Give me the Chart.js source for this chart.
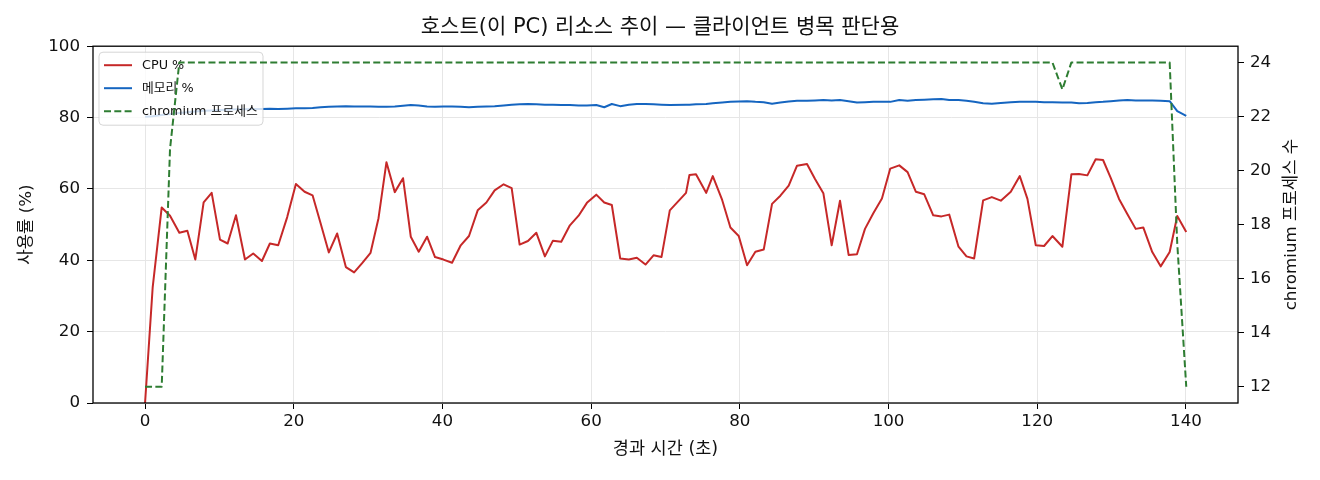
<!DOCTYPE html>
<html>
<head>
<meta charset="utf-8">
<script src="https://cdn.jsdelivr.net/npm/chart.js@4.4.1/dist/chart.umd.min.js"></script>
<style>
  html, body { margin: 0; padding: 0; background: #fff; }
  #wrap { width: 1320px; height: 480px; }
</style>
</head>
<body>
<div id="wrap"><canvas id="myChart" width="1320" height="480"></canvas></div>
<script>
// elapsed seconds of each sample
const times = [
  0.00, 1.03, 2.24, 3.36, 4.61, 5.69, 6.76, 7.88, 8.96, 10.08,
  11.11, 12.23, 13.44, 14.55, 15.72, 16.79, 17.91, 19.12, 20.29, 21.46,
  22.53, 23.61, 24.72, 25.84, 27.01, 28.12, 29.20, 30.33, 31.40, 32.47,
  33.59, 34.70, 35.74, 36.81, 37.93, 39.00, 40.13, 41.29, 42.46, 43.57,
  44.74, 45.91, 47.02, 48.23, 49.31, 50.38, 51.50, 52.63, 53.78, 54.86,
  55.98, 57.14, 58.31, 59.43, 60.69, 61.76, 62.78, 63.91, 65.07, 66.14,
  67.31, 68.39, 69.46, 70.58, 72.76, 73.22, 74.10, 75.47, 76.36, 77.62,
  78.73, 79.85, 80.97, 82.09, 83.21, 84.33, 85.45, 86.57, 87.69, 89.03,
  90.11, 91.23, 92.35, 93.47, 94.63, 95.75, 96.83, 97.95, 99.11, 100.23,
  101.44, 102.56, 103.68, 104.80, 106.01, 107.12, 108.16, 109.41, 110.48, 111.51,
  112.72, 113.89, 115.10, 116.44, 117.65, 118.68, 119.80, 120.92, 122.04, 123.38,
  124.59, 125.62, 126.74, 127.86, 128.85, 129.88, 131.00, 132.11, 133.24, 134.26,
  135.47, 136.60, 137.81, 138.83, 140.04
];

const cpuPct = [
  0.0, 32.5, 54.8, 52.5, 47.7, 48.3, 40.2, 56.2, 58.9, 45.8,
  44.7, 52.6, 40.2, 41.9, 39.8, 44.7, 44.2, 52.1, 61.4, 59.2,
  58.2, 50.4, 42.2, 47.5, 38.1, 36.6, 39.2, 42.1, 51.8, 67.5,
  59.1, 63.0, 46.6, 42.4, 46.6, 40.9, 40.2, 39.3, 44.2, 46.8,
  54.0, 56.2, 59.6, 61.3, 60.2, 44.4, 45.4, 47.7, 41.1, 45.5,
  45.2, 49.8, 52.5, 56.1, 58.4, 56.2, 55.5, 40.5, 40.2, 40.7,
  38.8, 41.4, 40.9, 54.0, 58.9, 63.9, 64.1, 58.9, 63.6, 56.9,
  49.2, 46.8, 38.6, 42.4, 43.0, 55.8, 58.1, 60.9, 66.5, 67.0,
  62.8, 58.8, 44.2, 56.7, 41.5, 41.7, 48.8, 53.2, 57.3, 65.7,
  66.6, 64.7, 59.2, 58.5, 52.6, 52.3, 52.8, 43.8, 41.1, 40.5,
  56.8, 57.7, 56.7, 59.2, 63.6, 57.2, 44.2, 44.0, 46.8, 43.8,
  64.1, 64.2, 63.8, 68.3, 68.1, 63.1, 57.2, 53.0, 48.8, 49.2,
  42.3, 38.3, 42.3, 52.4, 47.9
];

const memPct = [
  80.2, 80.4, 80.7, 81.0, 81.3, 81.5, 81.7, 81.9, 82.0, 82.1,
  82.2, 82.3, 82.3, 82.4, 82.4, 82.5, 82.4, 82.5, 82.6, 82.6,
  82.7, 82.9, 83.0, 83.1, 83.2, 83.1, 83.1, 83.1, 83.0, 83.0,
  83.1, 83.3, 83.5, 83.4, 83.1, 83.0, 83.1, 83.1, 83.0, 82.9,
  83.0, 83.1, 83.2, 83.4, 83.6, 83.7, 83.8, 83.7, 83.6, 83.6,
  83.5, 83.5, 83.4, 83.4, 83.5, 82.9, 83.8, 83.2, 83.6, 83.8,
  83.8, 83.7, 83.6, 83.5, 83.6, 83.6, 83.7, 83.8, 84.0, 84.2,
  84.4, 84.5, 84.6, 84.4, 84.3, 83.9, 84.2, 84.5, 84.7, 84.7,
  84.8, 84.9, 84.8, 84.9, 84.6, 84.2, 84.3, 84.4, 84.4, 84.4,
  84.9, 84.7, 84.9, 85.0, 85.1, 85.2, 84.9, 84.9, 84.7, 84.4,
  84.0, 83.9, 84.1, 84.3, 84.4, 84.4, 84.4, 84.3, 84.3, 84.2,
  84.2, 84.0, 84.1, 84.3, 84.4, 84.6, 84.8, 84.9, 84.8, 84.8,
  84.8, 84.7, 84.6, 81.8, 80.5
];

const chromiumCount = [
  12, 12, 12, 20.8, 24, 24, 24, 24, 24, 24,
  24, 24, 24, 24, 24, 24, 24, 24, 24, 24,
  24, 24, 24, 24, 24, 24, 24, 24, 24, 24,
  24, 24, 24, 24, 24, 24, 24, 24, 24, 24,
  24, 24, 24, 24, 24, 24, 24, 24, 24, 24,
  24, 24, 24, 24, 24, 24, 24, 24, 24, 24,
  24, 24, 24, 24, 24, 24, 24, 24, 24, 24,
  24, 24, 24, 24, 24, 24, 24, 24, 24, 24,
  24, 24, 24, 24, 24, 24, 24, 24, 24, 24,
  24, 24, 24, 24, 24, 24, 24, 24, 24, 24,
  24, 24, 24, 24, 24, 24, 24, 24, 24, 23,
  24, 24, 24, 24, 24, 24, 24, 24, 24, 24,
  24, 24, 24, 17.3, 12
];

const xTicks = [0, 20, 40, 60, 80, 100, 120, 140];
const pctTicks = [0, 20, 40, 60, 80, 100];
const countTicks = [12, 14, 16, 18, 20, 22, 24];

const FONT = "'DejaVu Sans', 'Noto Sans CJK KR', sans-serif";
const TEXT = "#111";

function points(values) {
  return times.map((t, i) => ({ x: t, y: values[i] }));
}

function fixTicks(list) {
  return (scale) => {
    scale.ticks = list.map((v) => ({ value: v }));
  };
}

// box round the plot area
const frame = {
  id: "frame",
  afterDraw(chart) {
    const { ctx, chartArea: a } = chart;
    ctx.save();
    ctx.strokeStyle = "#000";
    ctx.lineWidth = 1.3;
    ctx.strokeRect(a.left, a.top, a.right - a.left, a.bottom - a.top);
    ctx.restore();
  },
};

// legend inside the axes, under the chromium line like matplotlib
const innerLegend = {
  id: "innerLegend",
  beforeDatasetDraw(chart, args) {
    if (args.index !== 2) return;
    const ctx = chart.ctx;
    const a = chart.chartArea;
    const x = a.left + 6, y = a.top + 6, w = 164, h = 73;
    ctx.save();
    ctx.beginPath();
    ctx.roundRect(x, y, w, h, 4);
    ctx.fillStyle = "rgba(255,255,255,0.8)";
    ctx.fill();
    ctx.strokeStyle = "rgba(204,204,204,0.8)";
    ctx.lineWidth = 1;
    ctx.stroke();
    ctx.font = "12.8px " + FONT;
    ctx.textBaseline = "middle";
    chart.data.datasets.forEach((ds, i) => {
      const ry = y + 13 + i * 23;
      ctx.beginPath();
      ctx.setLineDash(ds.borderDash || []);
      ctx.strokeStyle = ds.borderColor;
      ctx.lineWidth = ds.borderWidth;
      ctx.moveTo(x + 5, ry);
      ctx.lineTo(x + 33, ry);
      ctx.stroke();
      ctx.setLineDash([]);
      ctx.fillStyle = TEXT;
      ctx.fillText(ds.label, x + 43, ry);
    });
    ctx.restore();
  },
};

// right axis title reads bottom to top
const rightTitle = {
  id: "rightTitle",
  afterDraw(chart) {
    const { ctx, chartArea: a } = chart;
    ctx.save();
    ctx.translate(1292, (a.top + a.bottom) / 2);
    ctx.rotate(-Math.PI / 2);
    ctx.font = "16.7px " + FONT;
    ctx.fillStyle = TEXT;
    ctx.textAlign = "center";
    ctx.textBaseline = "middle";
    ctx.fillText("chromium 프로세스 수", 0, 0);
    ctx.restore();
  },
};

function renderChart() {
  const ctx = document.getElementById("myChart");

  new Chart(ctx, {
    type: "line",
    data: {
      datasets: [
        {
          label: "CPU %",
          data: points(cpuPct),
          borderColor: "#c62828",
          borderWidth: 2,
          pointRadius: 0,
          yAxisID: "y",
          order: 2,
        },
        {
          label: "메모리 %",
          data: points(memPct),
          borderColor: "#1565c0",
          borderWidth: 2,
          pointRadius: 0,
          yAxisID: "y",
          order: 1,
        },
        {
          label: "chromium 프로세스",
          data: points(chromiumCount),
          borderColor: "#2e7d32",
          borderWidth: 2,
          borderDash: [7, 3.3],
          pointRadius: 0,
          yAxisID: "y1",
          order: 0,
        },
      ],
    },
    options: {
      responsive: false,
      animation: false,
      devicePixelRatio: 1,
      borderJoinStyle: "round",
      layout: { padding: 0 },
      scales: {
        x: {
          type: "linear",
          min: -7,
          max: 147,
          afterBuildTicks: fixTicks(xTicks),
          afterFit: (s) => { s.height = 77; },
          border: { display: false },
          grid: { color: "#e6e6e6", lineWidth: 1, tickColor: "#000", tickLength: 6 },
          ticks: { font: { family: FONT, size: 16.7 }, color: TEXT, padding: 3, maxRotation: 0 },
          title: {
            display: true,
            text: "경과 시간 (초)",
            font: { family: FONT, size: 17.5 },
            color: TEXT,
            padding: { top: 0, bottom: 20 },
          },
        },
        y: {
          position: "left",
          min: 0,
          max: 100,
          afterBuildTicks: fixTicks(pctTicks),
          afterFit: (s) => { s.width = 93; },
          border: { display: false },
          grid: { color: "#e6e6e6", lineWidth: 1, tickColor: "#000", tickLength: 6 },
          ticks: { font: { family: FONT, size: 16.7 }, color: TEXT, padding: 7 },
          title: {
            display: true,
            text: "사용률 (%)",
            font: { family: FONT, size: 16.7 },
            color: TEXT,
            padding: { top: 17, bottom: 0 },
          },
        },
        y1: {
          position: "right",
          min: 11.4,
          max: 24.6,
          afterBuildTicks: fixTicks(countTicks),
          afterFit: (s) => { s.width = 82; },
          border: { display: false },
          grid: { drawOnChartArea: false, tickColor: "#000", tickLength: 6 },
          ticks: { font: { family: FONT, size: 16.7 }, color: TEXT, padding: 6 },
        },
      },
      plugins: {
        title: {
          display: true,
          text: "호스트(이 PC) 리소스 추이 — 클라이언트 병목 판단용",
          font: { family: FONT, size: 21, weight: "normal" },
          color: TEXT,
          padding: { top: 15, bottom: 6 },
        },
        legend: { display: false },
        tooltip: { enabled: false },
      },
    },
    plugins: [innerLegend, frame, rightTitle],
  });
}

renderChart();
</script>
</body>
</html>
